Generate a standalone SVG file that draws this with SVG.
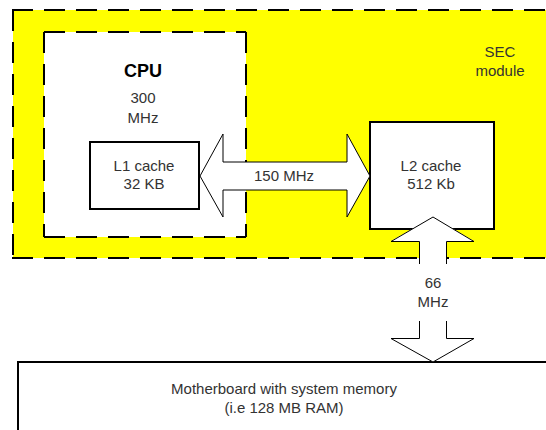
<svg xmlns="http://www.w3.org/2000/svg" width="546" height="430" viewBox="0 0 546 430">
<style>
.t{font-family:"Liberation Sans",Arial,sans-serif;font-size:15px;fill:#333;text-anchor:middle}
.b{font-family:"Liberation Sans",Arial,sans-serif;font-size:18px;font-weight:bold;fill:#000;text-anchor:middle}
.d{stroke:#000;stroke-width:2;stroke-dasharray:21 11;fill:none}
.box{fill:#fff;stroke:#000;stroke-width:2}
.ar{fill:#fff;stroke:#000;stroke-width:1}
</style>
<rect width="546" height="430" fill="#fff"/>
<g id="sec-module">
<rect x="13" y="10" width="545" height="248" fill="#ffff00"/>
<line class="d" x1="13" y1="10" x2="13" y2="258"/>
<line class="d" x1="12" y1="10" x2="546" y2="10"/>
<line class="d" x1="12" y1="258" x2="546" y2="258"/>
<text class="t" x="500" y="57">SEC</text>
<text class="t" x="500" y="76">module</text>
</g>
<g id="cpu">
<rect x="44" y="32" width="202" height="205" fill="#fff"/>
<line class="d" x1="44" y1="32" x2="44" y2="237"/>
<line class="d" x1="44" y1="32" x2="246" y2="32"/>
<line class="d" x1="44" y1="237" x2="246" y2="237"/>
<line class="d" x1="246" y1="32" x2="246" y2="237"/>
<text class="b" x="143" y="77">CPU</text>
<text class="t" x="143" y="103">300</text>
<text class="t" x="143" y="123">MHz</text>
</g>
<g id="l1-cache">
<rect class="box" x="90" y="142" width="109" height="67"/>
<text class="t" x="144" y="171">L1 cache</text>
<text class="t" x="144" y="189">32 KB</text>
</g>
<g id="l2-cache">
<rect class="box" x="370" y="122" width="124" height="107"/>
<text class="t" x="431" y="171">L2 cache</text>
<text class="t" x="431" y="189">512 Kb</text>
</g>
<g id="motherboard">
<rect class="box" x="18" y="362" width="540" height="80"/>
<text class="t" x="284" y="394">Motherboard with system memory</text>
<text class="t" x="284" y="413">(i.e 128 MB RAM)</text>
</g>
<g id="connectors">
<polygon class="ar" points="200,176 223,134 223,162 347,162 347,134 370,176 347,217 347,190 223,190 223,217"/>
<text class="t" x="284" y="181">150 MHz</text>
<polygon fill="#fff" points="433,217 474,241 447,241 447,338 474,338 433,362 391,338 419,338 419,241 391,241"/>
<path fill="none" stroke="#000" stroke-width="1" d="M419.5,264 V241.5 H391 L433,217 L474,241.5 H446.5 V264"/>
<path fill="none" stroke="#000" stroke-width="1" d="M419.5,321 V338.5 H391 L433,362 L474,338.5 H446.5 V321"/>
<text class="t" x="433" y="288">66</text>
<text class="t" x="433" y="307">MHz</text>
</g>
</svg>
